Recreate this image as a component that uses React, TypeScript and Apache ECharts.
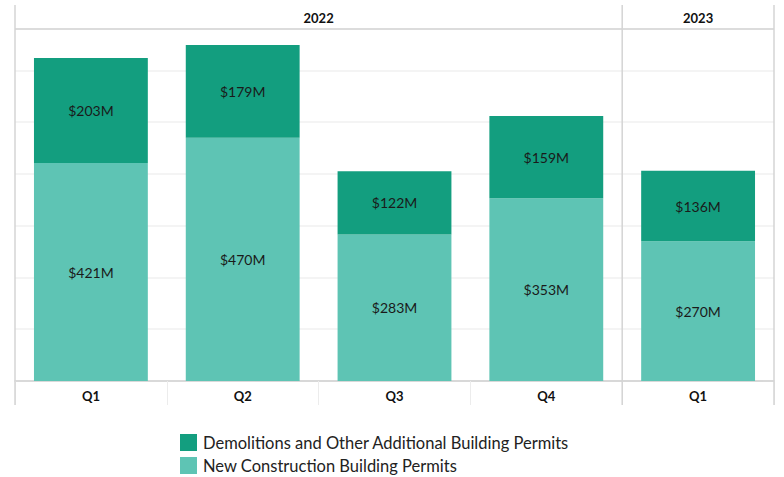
import React, { useEffect, useRef } from "react";
import * as echarts from "echarts";

const quarters = ["Q1", "Q2", "Q3", "Q4", "Q1"];
const quarterYears = ["2022", "2022", "2022", "2022", "2023"];
const newConstruction = [421, 470, 283, 353, 270];
const demolitions = [203, 179, 122, 159, 136];
const seriesNames = [
  "New Construction Building Permits",
  "Demolitions and Other Additional Building Permits",
];
const colors = ["#5EC4B4", "#139E7F"];

const W = 784;
const H = 477;
const GRID_LEFT = 15;
const GRID_RIGHT_X = 774;
const GRID_TOP = 29;
const GRID_BOTTOM_Y = 381;
const HEADER_TOP = 5;
const FOOT_BOTTOM = 405;
const FONT = "Lato, 'Liberation Sans', sans-serif";

export default function App() {
  const ref = useRef<HTMLDivElement>(null);
  useEffect(() => {
    if (!ref.current) return;
    const chart = echarts.init(ref.current, undefined, { renderer: "svg" });
    const keys = quarters.map((q, i) => `${quarterYears[i]}-${q}`);
    const n = keys.length;
    const band = (GRID_RIGHT_X - GRID_LEFT) / n;

    // year groups
    const groups: { year: string; start: number; end: number }[] = [];
    quarterYears.forEach((y, i) => {
      const last = groups[groups.length - 1];
      if (last && last.year === y) last.end = i;
      else groups.push({ year: y, start: i, end: i });
    });

    const lineStyle = { stroke: "#d4d4d4", lineWidth: 1.5 };
    const graphics: any[] = [];
    graphics.push({
      type: "line",
      shape: { x1: GRID_LEFT, y1: GRID_TOP, x2: GRID_RIGHT_X, y2: GRID_TOP },
      style: lineStyle,
      z: 10,
    });
    const vx = [GRID_LEFT, ...groups.map((g) => GRID_LEFT + (g.end + 1) * band)];
    vx.forEach((x) => {
      graphics.push({
        type: "line",
        shape: { x1: x, y1: HEADER_TOP, x2: x, y2: FOOT_BOTTOM },
        style: lineStyle,
        z: 10,
      });
    });
    groups.forEach((g) => {
      const cx = GRID_LEFT + ((g.start + g.end + 1) / 2) * band;
      graphics.push({
        type: "text",
        x: cx,
        y: (HEADER_TOP + GRID_TOP) / 2 + 1,
        style: {
          text: g.year,
          align: "center",
          verticalAlign: "middle",
          font: `bold 13px ${FONT}`,
          fill: "#111",
        },
        z: 10,
      });
    });

    chart.setOption({
      animation: false,
      grid: {
        left: GRID_LEFT,
        top: GRID_TOP,
        width: GRID_RIGHT_X - GRID_LEFT,
        height: GRID_BOTTOM_Y - GRID_TOP,
        containLabel: false,
      },
      legend: {
        orient: "vertical",
        left: 180,
        top: 434,
        itemWidth: 17,
        itemHeight: 17,
        itemGap: 6,
        icon: "rect",
        data: [seriesNames[1], seriesNames[0]],
        textStyle: { fontFamily: FONT, fontSize: 16.5, color: "#222", padding: [0, 0, 0, 1] },
        selectedMode: false,
        padding: 0,
      },
      xAxis: {
        type: "category",
        data: keys,
        axisLine: { show: true, lineStyle: { color: "#cfcfcf", width: 1.5 } },
        axisTick: { show: true, length: 24, lineStyle: { color: "#ececec" } },
        axisLabel: {
          formatter: (v: string) => v.split("-")[1],
          fontFamily: FONT,
          fontWeight: "bold",
          fontSize: 13,
          color: "#111",
          margin: 8,
        },
      },
      yAxis: {
        type: "value",
        min: 0,
        max: 680,
        interval: 100,
        axisLabel: { show: false },
        axisLine: { show: false },
        axisTick: { show: false },
        splitLine: { lineStyle: { color: "#f0f0f0", width: 1.5 } },
      },
      series: [newConstruction, demolitions].map((d, i) => ({
        name: seriesNames[i],
        type: "bar",
        stack: "total",
        data: d,
        barWidth: "75%",
        itemStyle: { color: colors[i] },
        label: {
          show: true,
          position: "inside",
          formatter: (p: any) => `$${p.value}M`,
          fontFamily: FONT,
          fontSize: 14,
          color: "#1a1a1a",
        },
      })),
      graphic: graphics,
    });
    return () => chart.dispose();
  }, []);
  return (
    <div
      ref={ref}
      style={{ position: "fixed", left: 0, top: 0, width: W, height: H, background: "#fff" }}
    />
  );
}
